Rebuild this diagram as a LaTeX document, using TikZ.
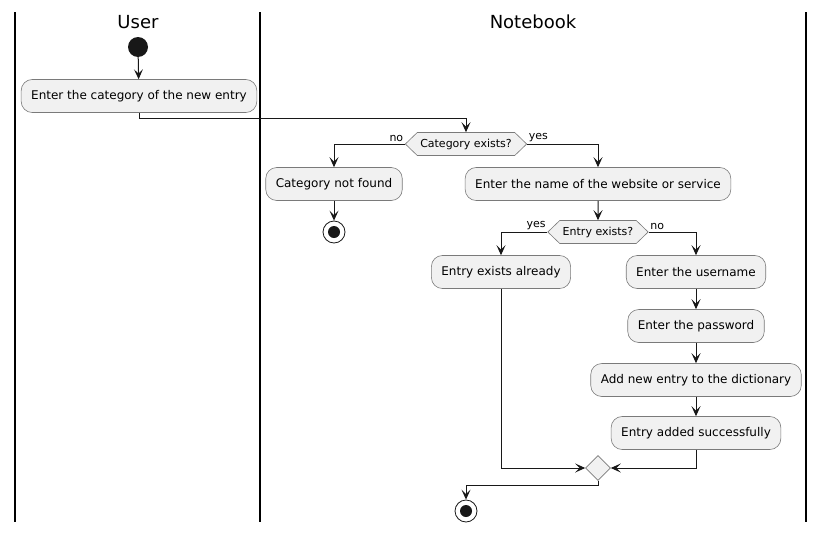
\documentclass[tikz,border=0pt]{standalone}
\usepackage{fontspec}
\setmainfont{DejaVu Sans}
\usetikzlibrary{arrows.meta,shapes.geometric,shapes.symbols}
\definecolor{boxfill}{HTML}{F1F1F1}
\definecolor{boxline}{HTML}{7A7A7A}
\definecolor{ink}{HTML}{181818}
\tikzset{
  act/.style={draw=boxline, line width=0.6pt, fill=boxfill, rounded corners=11pt,
    minimum height=33pt, inner xsep=10pt, inner ysep=0pt, font=\fontsize{12}{14}\selectfont, text=black},
  hex/.style={draw=boxline, line width=0.6pt, fill=boxfill, signal, signal to=west and east,
    signal pointer angle=88, minimum height=23pt, inner xsep=3pt, inner ysep=0pt,
    font=\fontsize{11}{13}\selectfont},
  merge/.style={draw=boxline, line width=0.6pt, fill=boxfill, diamond, minimum size=25pt, inner sep=0pt},
  startnode/.style={circle, fill=ink, minimum size=20pt, inner sep=0pt},
  endnode/.style={circle, draw=ink, line width=0.8pt, fill=white, minimum size=22pt, inner sep=0pt,
    path picture={\fill[ink] (path picture bounding box.center) circle (6pt);}},
  arr/.style={draw=ink, line width=1pt, -{Stealth[length=10pt,width=9pt,inset=4.5pt]}},
  lbl/.style={font=\fontsize{11}{13}\selectfont, inner xsep=1.5pt, inner ysep=2pt, text=black},
  lane/.style={draw=black, line width=1.3pt},
  title/.style={font=\fontsize{18}{20}\selectfont, text=black}
}
\begin{document}
\begin{tikzpicture}[x=1pt,y=-1pt]
\useasboundingbox (0,0) rectangle (824,533);
% lanes
\draw[lane] (15,12) -- (15,522);
\draw[lane] (260,12) -- (260,522);
\draw[lane] (806,12) -- (806,522);
\node[title] (tuser) at (138,22) {User};
\node[title] (tnote) at (533,22) {Notebook};
% nodes
\node[startnode] (start) at (138,47) {};
\node[act] (b1) at (139,96) {Enter the category of the new entry};
\node[hex] (d1) at (466,144) {Category exists?};
\node[act] (nf) at (334,184) {Category not found};
\node[endnode] (e1) at (334,232) {};
\node[act] (name) at (598,184) {Enter the name of the website or service};
\node[hex] (d2) at (598,232) {Entry exists?};
\node[act] (ex) at (501,272) {Entry exists already};
\node[act] (user) at (696,272) {Enter the username};
\node[act] (pass) at (696,326) {Enter the password};
\node[act] (add) at (696,380) {Add new entry to the dictionary};
\node[act] (succ) at (696,433) {Entry added successfully};
\node[merge] (m) at (598,468) {};
\node[endnode] (e2) at (466,511) {};
% connectors
\draw[arr] (start) -- (b1);
\draw[arr] (b1.south) -- ++(0,6) -| (d1.north);
\draw[arr] (d1.west) -| (nf.north);
\draw[arr] (d1.east) -| (name.north);
\node[lbl, anchor=south east] (lno1) at (d1.west) {no};
\node[lbl, anchor=south west] (lyes1) at (d1.east) {yes};
\draw[arr] (nf) -- (e1);
\draw[arr] (name) -- (d2);
\draw[arr] (d2.west) -| (ex.north);
\draw[arr] (d2.east) -| (user.north);
\node[lbl, anchor=south east] (lyes2) at (d2.west) {yes};
\node[lbl, anchor=south west] (lno2) at (d2.east) {no};
\draw[arr] (user) -- (pass);
\draw[arr] (pass) -- (add);
\draw[arr] (add) -- (succ);
\draw[arr] (ex.south) |- (m.west);
\draw[arr] (succ.south) |- (m.east);
\draw[arr] (m.south) -- ++(0,5) -| (e2.north);
\end{tikzpicture}
\end{document}
